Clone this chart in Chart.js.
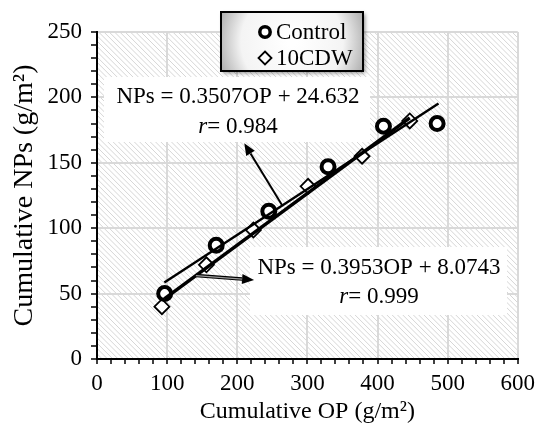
<!DOCTYPE html>
<html>
<head>
<meta charset="utf-8">
<script src="https://cdn.jsdelivr.net/npm/chart.js@4.4.1/dist/chart.umd.min.js"></script>
<style>
  html, body { margin: 0; padding: 0; background: #fff; }
  #wrap { width: 541px; height: 430px; position: relative; }
</style>
</head>
<body>
<div id="wrap"><canvas id="c" width="541" height="430"></canvas></div>
<script>
// ---- data ----
const controlOP  = [96.5, 170, 245, 329.5, 408.5, 485];
const controlNPs = [50, 87, 113, 147, 178, 180];
const cdwOP      = [92.6, 156, 223, 301, 378, 446];
const cdwNPs     = [40, 72, 98.6, 132, 155, 182];
// trend lines (end points as drawn)
const controlFitOP  = [96, 487];
const controlFitNPs = [58.5, 195.3];
const cdwFitOP      = [96, 446];
const cdwFitNPs     = [46, 184.4];
// annotation arrows [fromOP, fromNPs, toOP, toNPs]
const arrow1 = [264, 117.5, 210, 165];
const arrow2 = [141, 63.8, 224, 60.4];
const eq1 = ["NPs = 0.3507OP + 24.632", "0.984"];
const eq2 = ["NPs = 0.3953OP + 8.0743", "0.999"];
const legendLabels = ["Control", "10CDW"];
const xTitle = "Cumulative OP (g/m²)";
const yTitle = "Cumulative NPs (g/m²)";

const FONT = "'Liberation Serif', 'Times New Roman', serif";

const hatchPlugin = {
  id: 'hatch',
  beforeDraw(chart) {
    const {ctx, chartArea: a} = chart;
    ctx.save();
    ctx.fillStyle = '#fff';
    ctx.fillRect(a.left, a.top, a.right - a.left, a.bottom - a.top);
    ctx.beginPath();
    ctx.rect(a.left, a.top, a.right - a.left, a.bottom - a.top);
    ctx.clip();
    ctx.strokeStyle = '#d6d6d6';
    ctx.lineWidth = 1;
    const h = a.bottom - a.top;
    ctx.beginPath();
    for (let s = a.left - h; s < a.right + 5; s += 5.3) {
      ctx.moveTo(s, a.top);
      ctx.lineTo(s + h, a.bottom);
    }
    ctx.stroke();
    ctx.restore();
  }
};

function drawEq(ctx, lines, cx, y1, y2) {
  ctx.fillStyle = '#000';
  ctx.textBaseline = 'middle';
  ctx.textAlign = 'center';
  ctx.font = "23px " + FONT;
  ctx.fillText(lines[0], cx, y1);
  const rest = "= " + lines[1];
  ctx.font = "23px " + FONT;
  const wRest = ctx.measureText(rest).width;
  ctx.font = "italic 23px " + FONT;
  const wR = ctx.measureText("r").width;
  const start = cx - (wR + wRest) / 2;
  ctx.textAlign = 'left';
  ctx.fillText("r", start, y2);
  ctx.font = "23px " + FONT;
  ctx.fillText(rest, start + wR, y2);
}

function arrow(ctx, x1, y1, x2, y2, dbl) {
  const ang = Math.atan2(y2 - y1, x2 - x1);
  const hl = 12, hw = 5;
  const bx = x2 - hl * Math.cos(ang), by = y2 - hl * Math.sin(ang);
  ctx.save();
  ctx.lineCap = 'butt';
  ctx.strokeStyle = '#000';
  ctx.lineWidth = dbl ? 3.5 : 2;
  ctx.beginPath(); ctx.moveTo(x1, y1); ctx.lineTo(bx, by); ctx.stroke();
  if (dbl) {
    ctx.strokeStyle = '#9a9a9a';
    ctx.lineWidth = 1.2;
    ctx.beginPath(); ctx.moveTo(x1, y1); ctx.lineTo(bx, by); ctx.stroke();
  }
  ctx.fillStyle = '#000';
  ctx.beginPath();
  ctx.moveTo(x2, y2);
  ctx.lineTo(bx + hw * Math.sin(ang), by - hw * Math.cos(ang));
  ctx.lineTo(bx - hw * Math.sin(ang), by + hw * Math.cos(ang));
  ctx.closePath();
  ctx.fill();
  ctx.restore();
}

const annoPlugin = {
  id: 'anno',
  beforeDatasetsDraw(chart) {
    const {ctx} = chart;
    ctx.save();
    ctx.fillStyle = '#fff';
    ctx.fillRect(104, 77, 266, 65);
    ctx.fillRect(250, 247, 257, 68);
    drawEq(ctx, eq1, 238, 97, 127);
    drawEq(ctx, eq2, 379, 268, 297);
    ctx.restore();
  },
  afterDatasetsDraw(chart) {
    const {ctx, scales: {x, y}} = chart;
    arrow(ctx, x.getPixelForValue(arrow1[0]), y.getPixelForValue(arrow1[1]),
               x.getPixelForValue(arrow1[2]), y.getPixelForValue(arrow1[3]), false);
    arrow(ctx, x.getPixelForValue(arrow2[0]), y.getPixelForValue(arrow2[1]),
               x.getPixelForValue(arrow2[2]), y.getPixelForValue(arrow2[3]), true);
  },
  afterDraw(chart) {
    const {ctx} = chart;
    const L = 221, T = 12, W = 142, H = 59;
    ctx.save();
    ctx.shadowColor = 'rgba(0,0,0,0.45)';
    ctx.shadowBlur = 4; ctx.shadowOffsetX = 2; ctx.shadowOffsetY = 2;
    const g = ctx.createRadialGradient(L + W/2, T + H/2, 5, L + W/2, T + H/2, W/1.6);
    g.addColorStop(0, '#ffffff');
    g.addColorStop(0.55, '#f4f4f4');
    g.addColorStop(1, '#8c8c8c');
    ctx.fillStyle = g;
    ctx.fillRect(L, T, W, H);
    ctx.shadowColor = 'transparent';
    ctx.strokeStyle = '#000';
    ctx.lineWidth = 2;
    ctx.strokeRect(L, T, W, H);
    const mx = 265, y1 = 32, y2 = 58;
    ctx.lineWidth = 3.5;
    ctx.fillStyle = '#fff';
    ctx.beginPath(); ctx.arc(mx, y1, 5.2, 0, Math.PI * 2); ctx.fill(); ctx.stroke();
    ctx.lineWidth = 1.8;
    ctx.beginPath();
    ctx.moveTo(mx, y2 - 6.5); ctx.lineTo(mx + 6.5, y2); ctx.lineTo(mx, y2 + 6.5); ctx.lineTo(mx - 6.5, y2);
    ctx.closePath(); ctx.fill(); ctx.stroke();
    ctx.fillStyle = '#000';
    ctx.font = "23px " + FONT;
    ctx.textBaseline = 'middle';
    ctx.textAlign = 'left';
    ctx.fillText(legendLabels[0], 276, y1 + 1);
    ctx.fillText(legendLabels[1], 276, y2 + 1);
    ctx.restore();
  }
};

const toPts = (xs, ys) => xs.map((v, i) => ({x: v, y: ys[i]}));

new Chart(document.getElementById('c'), {
  type: 'scatter',
  data: {
    datasets: [
      { label: 'ControlFit', type: 'line', data: toPts(controlFitOP, controlFitNPs),
        borderColor: '#000', borderWidth: 2.5, pointRadius: 0, fill: false },
      { label: 'CDWFitOuter', type: 'line', data: toPts(cdwFitOP, cdwFitNPs),
        borderColor: '#000', borderWidth: 3.5, pointRadius: 0, fill: false },
      { label: 'CDWFitInner', type: 'line', data: toPts(cdwFitOP, cdwFitNPs),
        borderColor: '#a0a0a0', borderWidth: 1.2, pointRadius: 0, fill: false },
      { label: legendLabels[0], data: toPts(controlOP, controlNPs),
        pointStyle: 'circle', pointRadius: 6.5, borderWidth: 4,
        borderColor: '#000', backgroundColor: '#fff' },
      { label: legendLabels[1], data: toPts(cdwOP, cdwNPs),
        pointStyle: 'rectRot', pointRadius: 7.5, borderWidth: 1.8,
        borderColor: '#000', backgroundColor: '#fff' }
    ]
  },
  options: {
    responsive: false,
    animation: false,
    layout: { padding: { top: 32, right: 21, left: 0, bottom: 0 } },
    plugins: { legend: { display: false }, tooltip: { enabled: false } },
    scales: {
      x: {
        type: 'linear', min: 0, max: 600,
        afterFit(s) { s.height = 71; },
        ticks: {
          stepSize: 20, autoSkip: false, maxRotation: 0, padding: 6,
          color: '#000', font: { family: FONT, size: 23 },
          callback: v => (v % 100 === 0 ? String(v) : '')
        },
        grid: {
          color: c => (c.tick && c.tick.value % 100 === 0 ? '#d9d9d9' : 'rgba(0,0,0,0)'),
          lineWidth: 2, tickColor: '#000', tickLength: 5, tickWidth: 1.5
        },
        border: { color: '#000', width: 2 },
        title: { display: true, text: xTitle, color: '#000',
                 font: { family: FONT, size: 24 }, padding: { top: 0, bottom: 4 } }
      },
      y: {
        type: 'linear', min: 0, max: 250,
        afterFit(s) { s.width = 97; },
        ticks: {
          stepSize: 10, autoSkip: false, padding: 9,
          color: '#000', font: { family: FONT, size: 23 },
          callback: v => (v % 50 === 0 ? String(v) : '')
        },
        grid: {
          color: c => (c.tick && c.tick.value % 50 === 0 ? '#d9d9d9' : 'rgba(0,0,0,0)'),
          lineWidth: 2, tickColor: '#000', tickLength: 6, tickWidth: 1.5
        },
        border: { color: '#000', width: 2 },
        title: { display: true, text: yTitle, color: '#000',
                 font: { family: FONT, size: 28 }, padding: { top: 8, bottom: 0 } }
      }
    }
  },
  plugins: [hatchPlugin, annoPlugin]
});
</script>
</body>
</html>
